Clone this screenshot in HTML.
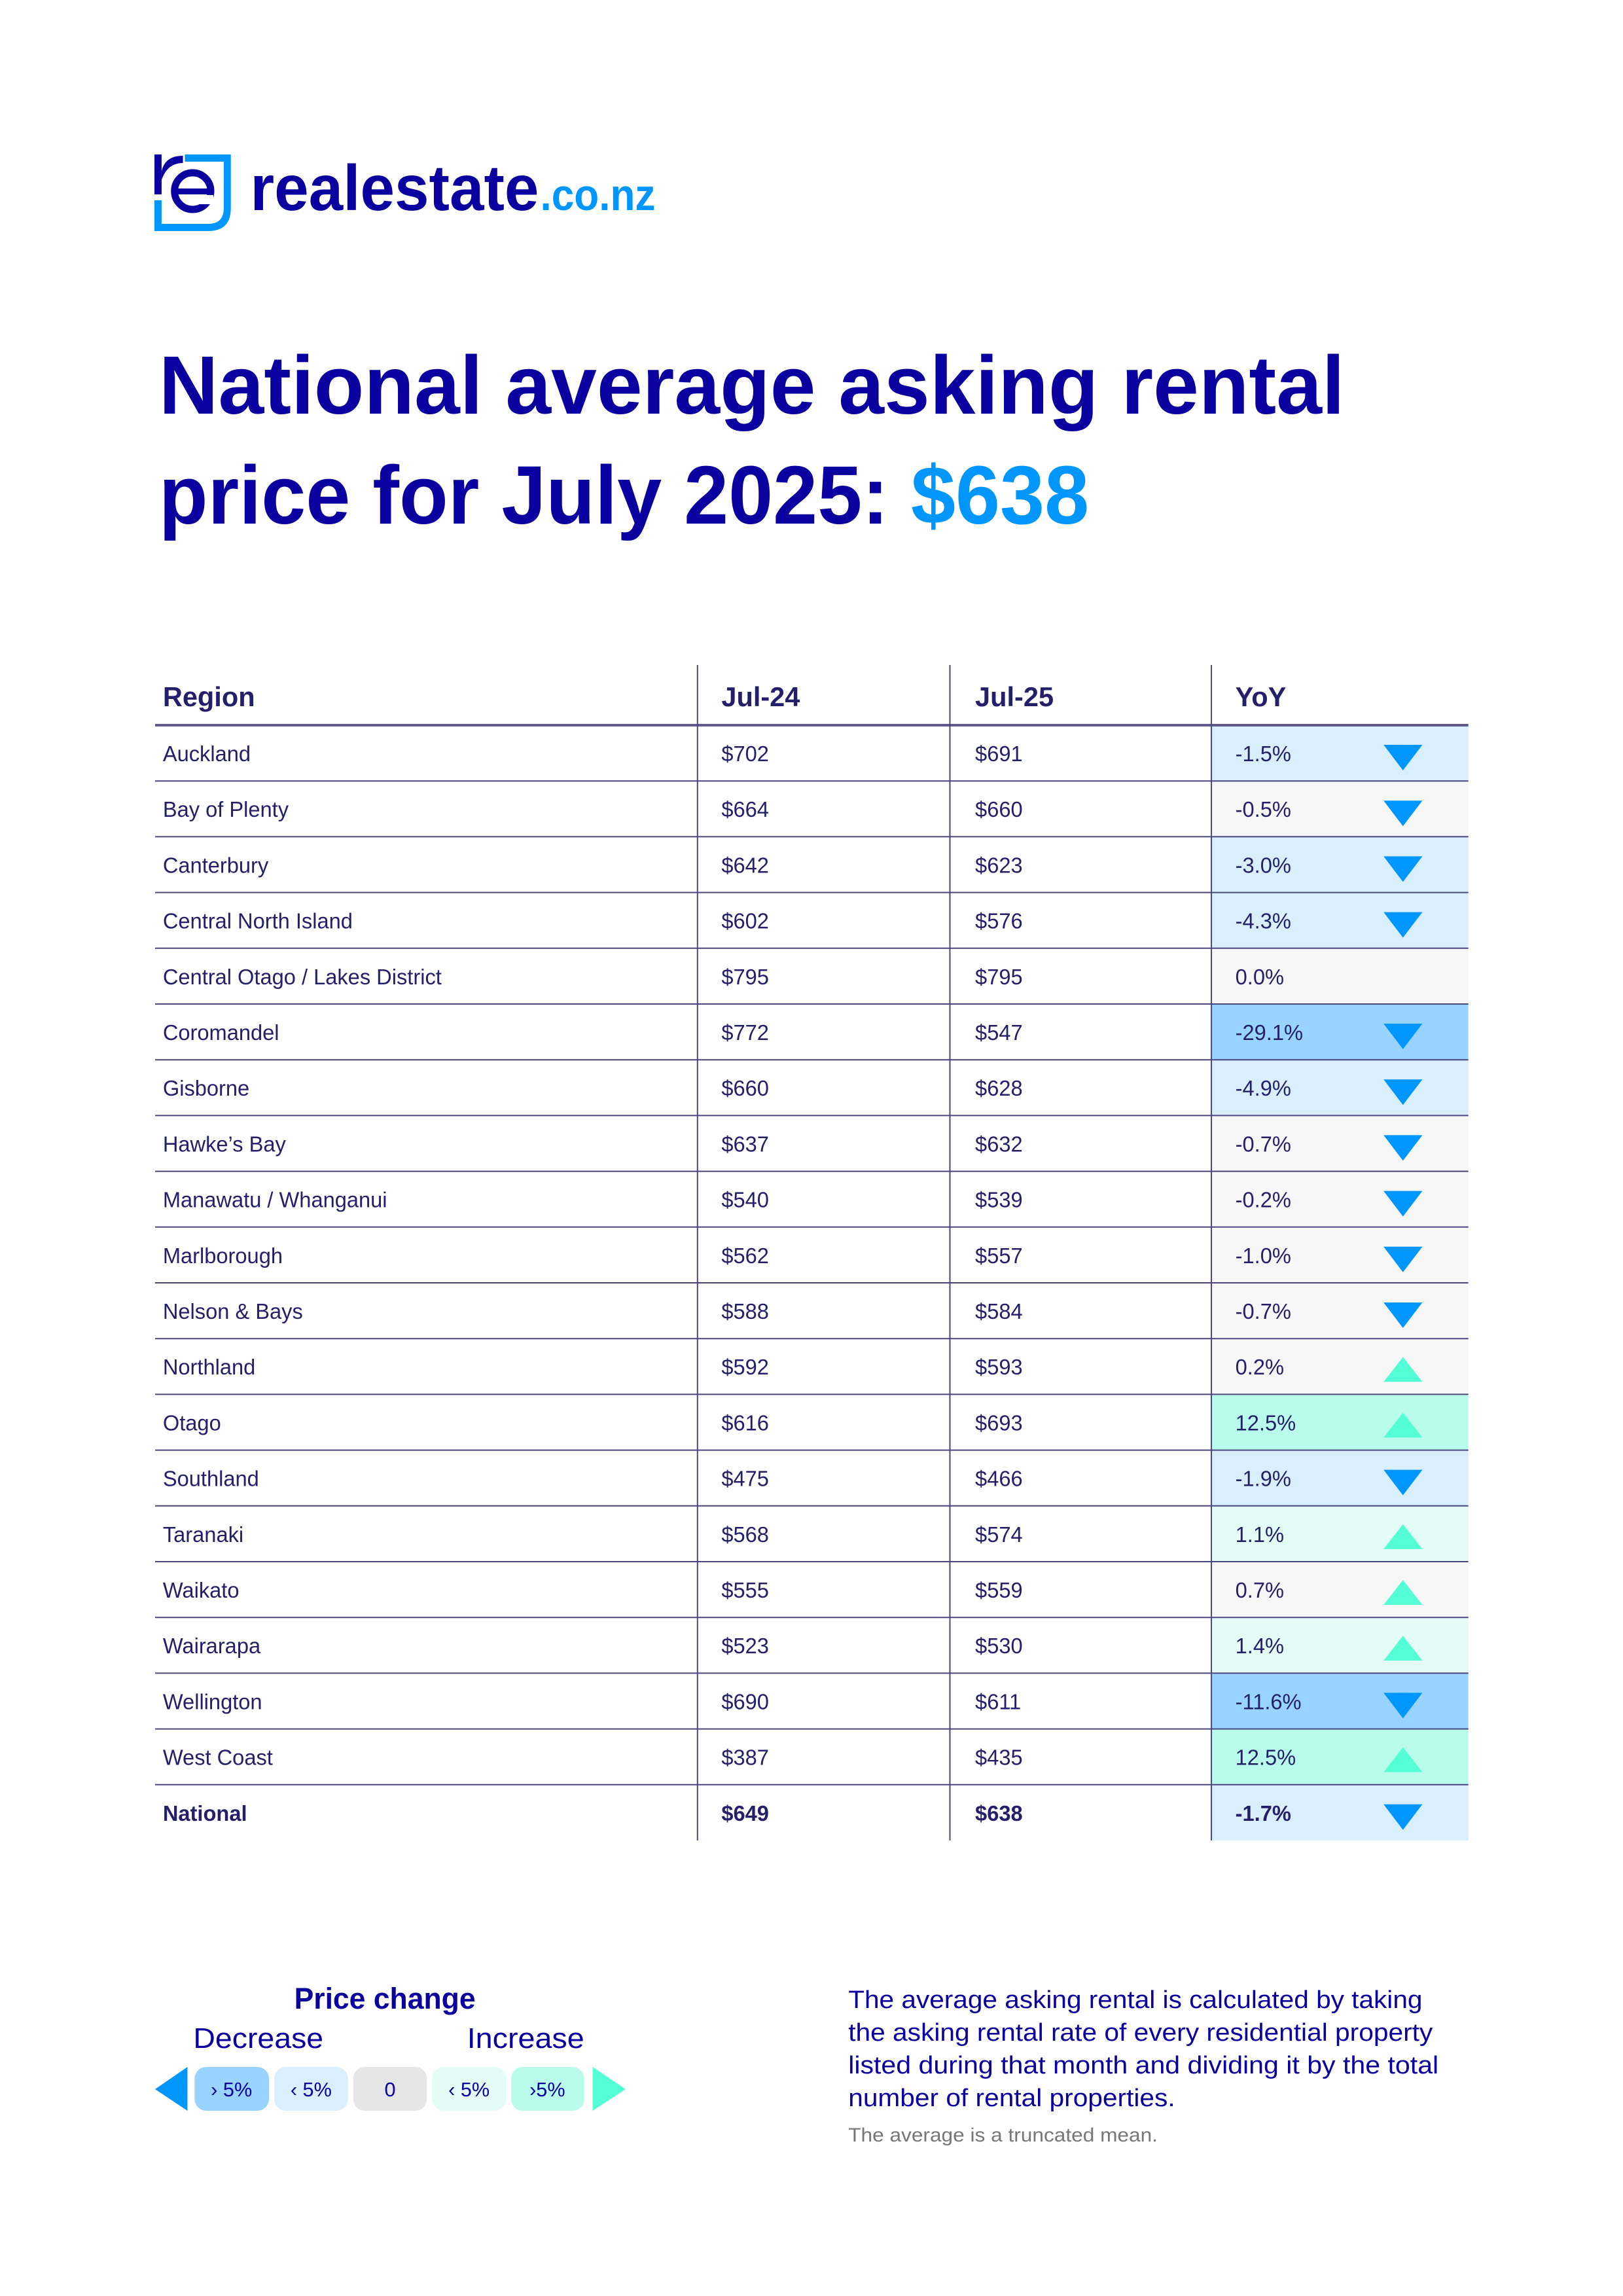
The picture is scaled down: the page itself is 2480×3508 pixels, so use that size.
<!DOCTYPE html>
<html><head><meta charset="utf-8">
<style>
html,body{margin:0;padding:0;background:#fff;}
svg{display:block;font-family:"Liberation Sans",sans-serif;}
</style></head>
<body>
<svg id="page" width="2480" height="3508" viewBox="0 0 2480 3508" xmlns="http://www.w3.org/2000/svg">
  <rect width="2480" height="3508" fill="#fff"/>
  <g transform="translate(237,0) scale(0.989,1) translate(-237,0)">
  <g>
    <path d="M283 236 H354 V318 Q354 353 319 353 H236 V306 H247 V342 H319 Q343 342 343 318 V247 H283 Z" fill="#0096FF"/>
    <rect x="236" y="236" width="11" height="61" fill="#0A00A0"/>
    <path d="M247 262 Q252 238 280 238 V249 Q256 249 247 275 Z" fill="#0A00A0"/>
    <circle cx="295" cy="292" r="28" fill="none" stroke="#0A00A0" stroke-width="11"/>
    <rect x="267" y="288" width="56" height="9" fill="#0A00A0"/>
    <rect x="303" y="298" width="24" height="14" fill="#fff"/>
    <text x="384" y="321" font-size="98" font-weight="bold" fill="#0A00A0" textLength="446" lengthAdjust="spacingAndGlyphs">realestate</text>
    <text x="832" y="321" font-size="68" font-weight="bold" fill="#0096FF" textLength="178" lengthAdjust="spacingAndGlyphs">.co.nz</text>
  </g>
  <text x="243" y="632" font-size="126" font-weight="bold" fill="#0A00A0" textLength="1832" lengthAdjust="spacingAndGlyphs">National average asking rental</text>
  <text x="243" y="800" font-size="126" font-weight="bold" fill="#0A00A0" textLength="1437" lengthAdjust="spacingAndGlyphs">price for July 2025: <tspan fill="#0096FF">$638</tspan></text>

  <g id="table"></g>

  <g>
    <text x="592" y="3069" font-size="45" font-weight="bold" fill="#0A00A0" text-anchor="middle">Price change</text>
    <text x="296" y="3129" font-size="44" fill="#0A00A0" textLength="201" lengthAdjust="spacingAndGlyphs">Decrease</text>
    <text x="719" y="3129" font-size="44" fill="#0A00A0" textLength="181" lengthAdjust="spacingAndGlyphs">Increase</text>
    <polygon points="287,3158 287,3225 237,3192" fill="#0096FF"/>
    <polygon points="913,3158 913,3225 964,3192" fill="#55FFD6"/>
    <rect x="298" y="3158" width="115" height="67" rx="18" fill="#99D3FF"/>
    <rect x="421" y="3158" width="114" height="67" rx="18" fill="#D9EFFD"/>
    <rect x="543" y="3158" width="114" height="67" rx="18" fill="#E6E6E6"/>
    <rect x="665" y="3158" width="114" height="67" rx="18" fill="#E3FDF6"/>
    <rect x="787" y="3158" width="113" height="67" rx="18" fill="#BAFCEC"/>
    <g font-size="31" fill="#0A00A0" text-anchor="middle">
      <text x="355" y="3203">› 5%</text>
      <text x="478" y="3203">‹ 5%</text>
      <text x="600" y="3203">0</text>
      <text x="722" y="3203">‹ 5%</text>
      <text x="843" y="3203">›5%</text>
    </g>
  </g>
  <g font-size="38" fill="#0A00A0">
    <text x="1308" y="3068" textLength="887" lengthAdjust="spacingAndGlyphs">The average asking rental is calculated by taking</text>
    <text x="1308" y="3118" textLength="903" lengthAdjust="spacingAndGlyphs">the asking rental rate of every residential property</text>
    <text x="1308" y="3168" textLength="912" lengthAdjust="spacingAndGlyphs">listed during that month and dividing it by the total</text>
    <text x="1308" y="3218" textLength="505" lengthAdjust="spacingAndGlyphs">number of rental properties.</text>
    <text x="1308" y="3272" font-size="30" fill="#777" textLength="478" lengthAdjust="spacingAndGlyphs">The average is a truncated mean.</text>
  </g>
  </g>
</svg>
<script>
const regions = ["Auckland","Bay of Plenty","Canterbury","Central North Island","Central Otago / Lakes District","Coromandel","Gisborne","Hawke’s Bay","Manawatu / Whanganui","Marlborough","Nelson & Bays","Northland","Otago","Southland","Taranaki","Waikato","Wairarapa","Wellington","West Coast","National"];
const jul24 = [702,664,642,602,795,772,660,637,540,562,588,592,616,475,568,555,523,690,387,649];
const jul25 = [691,660,623,576,795,547,628,632,539,557,584,593,693,466,574,559,530,611,435,638];
const yoy = [-1.5,-0.5,-3.0,-4.3,0.0,-29.1,-4.9,-0.7,-0.2,-1.0,-0.7,0.2,12.5,-1.9,1.1,0.7,1.4,-11.6,12.5,-1.7];

const NS = "http://www.w3.org/2000/svg";
const g = document.getElementById('table');
const L = 237, C1 = 1075, C2 = 1465, C3 = 1869, R = 2266;
const headTop = 1016, headBot = 1108;
const rowH = (2812 - headBot) / regions.length;
const rowY = i => headBot + i * rowH;
function el(tag, attrs, parent) {
  const e = document.createElementNS(NS, tag);
  for (const k in attrs) e.setAttribute(k, attrs[k]);
  (parent || g).appendChild(e);
  return e;
}
function cellFill(v) {
  const a = Math.abs(v);
  if (a <= 1.0) return "#F7F7F7";
  if (v < 0) return a > 5 ? "#99D3FF" : "#D9EFFD";
  return a > 5 ? "#BAFCEC" : "#E3FDF6";
}
regions.forEach((r, i) => {
  const bg = el('rect', {x: C3, y: rowY(i), width: R - C3, height: rowH, fill: cellFill(yoy[i])});
  
  
});
const heads = [["Region", L + 12], ["Jul-24", C1 + 37], ["Jul-25", C2 + 39], ["YoY", C3 + 37]];
heads.forEach(h => {
  const t = el('text', {x: h[1], y: 1079, 'font-size': 42, 'font-weight': 'bold', fill: '#231F6B'});
  t.textContent = h[0];
  
  
});
regions.forEach((r, i) => {
  const y0 = rowY(i);
  const bold = i === regions.length - 1 ? 'bold' : 'normal';
  const vals = [[r, L + 12], ["$" + jul24[i], C1 + 37], ["$" + jul25[i], C2 + 39], [yoy[i].toFixed(1) + "%", C3 + 37]];
  vals.forEach(v => {
    const t = el('text', {x: v[1], y: y0 + 55, 'font-size': 33, 'font-weight': bold, fill: '#231F6B'});
    t.textContent = v[0];
    
    
  });
  const ax = 2165;
  if (yoy[i] < 0) {
    const p = el('polygon', {points: `${ax-30},${y0+30} ${ax+30},${y0+30} ${ax},${y0+69}`, fill: '#0096FF'});
    
    
  } else if (yoy[i] > 0) {
    const p = el('polygon', {points: `${ax-30},${y0+66} ${ax+30},${y0+66} ${ax},${y0+28}`, fill: '#55FFD6'});
    
    
  }
  const ln = el('line', {x1: L, x2: R, y1: y0, y2: y0, stroke: i === 0 ? '#5E5A8E' : '#4A4680', 'stroke-width': i === 0 ? 4 : 2});
  
  
});
[C1, C2, C3].forEach(x => {
  const v = el('line', {x1: x, x2: x, y1: headTop, y2: 2812, stroke: '#4A4680', 'stroke-width': 2});
  
  
});
</script>
</body></html>
